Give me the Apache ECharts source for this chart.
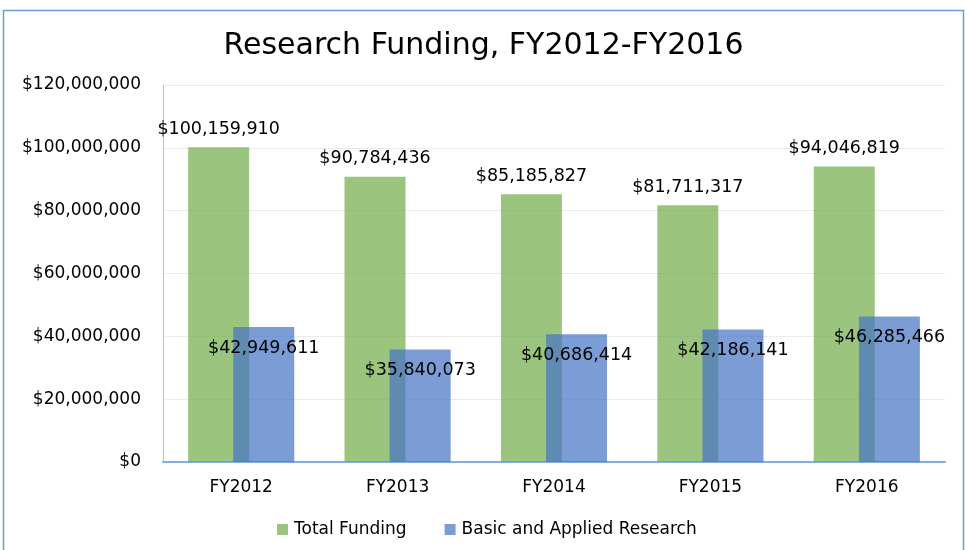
<!DOCTYPE html>
<html>
<head>
<meta charset="utf-8">
<script src="https://cdn.jsdelivr.net/npm/echarts@6/dist/echarts.min.js"></script>
<style>
html,body{margin:0;padding:0;background:#fff;}
#chart{width:967px;height:550px;}
</style>
</head>
<body>
<div id="chart"></div>
<script>
const categories = ['FY2012', 'FY2013', 'FY2014', 'FY2015', 'FY2016'];
const totalFunding = [100159910, 90784436, 85185827, 81711317, 94046819];
const basicApplied = [42949611, 35840073, 40686414, 42186141, 46285466];
const seriesNames = ['Total Funding', 'Basic and Applied Research'];
const titleText = 'Research Funding, FY2012-FY2016';

const FONT = 'DejaVu Sans';
function money(v) { return '$' + Math.round(v).toLocaleString('en-US'); }

const chart = echarts.init(document.getElementById('chart'));
chart.setOption({
  animation: false,
  backgroundColor: '#ffffff',
  title: {
    text: titleText,
    left: 'center',
    top: 26,
    textStyle: { fontFamily: FONT, fontSize: 30, fontWeight: 'normal', color: '#000' }
  },
  graphic: [{
    type: 'rect',
    shape: { x: 3.5, y: 10.5, width: 960, height: 560 },
    style: { fill: 'none', stroke: '#6A9FD8', lineWidth: 1.5 },
    silent: true, z: 100
  }],
  legend: {
    left: 272,
    top: 516,
    itemWidth: 11,
    itemHeight: 11,
    itemGap: 38,
    icon: 'rect',
    textStyle: { fontFamily: FONT, fontSize: 17, color: '#000', padding: [0, 0, 0, 1] },
    data: seriesNames
  },
  grid: { left: 163, right: 22, top: 85, bottom: 88, containLabel: false },
  xAxis: {
    type: 'category',
    data: categories,
    axisTick: { show: false },
    axisLine: { show: true, lineStyle: { color: '#7EB0E0', width: 2 } },
    axisLabel: { fontFamily: FONT, fontSize: 17, color: '#000', margin: 17 },
    splitLine: { show: false }
  },
  yAxis: {
    type: 'value',
    min: 0,
    max: 120000000,
    interval: 20000000,
    axisLine: { show: true, lineStyle: { color: '#A9CBEB', width: 1 } },
    axisTick: { show: false },
    axisLabel: { fontFamily: FONT, fontSize: 17, color: '#000', margin: 22, formatter: money },
    splitLine: { show: true, lineStyle: { color: '#EBEBEB', width: 1 } }
  },
  series: [
    {
      name: seriesNames[0],
      type: 'bar',
      data: totalFunding,
      barWidth: 61,
      barGap: '-26%',
      itemStyle: { color: 'rgba(112,173,71,0.7)' },
      label: {
        show: true, position: 'top', distance: 9,
        fontFamily: FONT, fontSize: 17.5, color: '#000',
        formatter: p => money(p.value)
      },
      z: 2
    },
    {
      name: seriesNames[1],
      type: 'bar',
      data: basicApplied,
      barWidth: 61,
      barGap: '-26%',
      itemStyle: { color: 'rgba(68,114,196,0.7)' },
      label: {
        show: true, position: 'insideTop', distance: 12,
        fontFamily: FONT, fontSize: 17.5, color: '#000',
        formatter: p => money(p.value)
      },
      z: 3
    }
  ]
});
</script>
</body>
</html>
